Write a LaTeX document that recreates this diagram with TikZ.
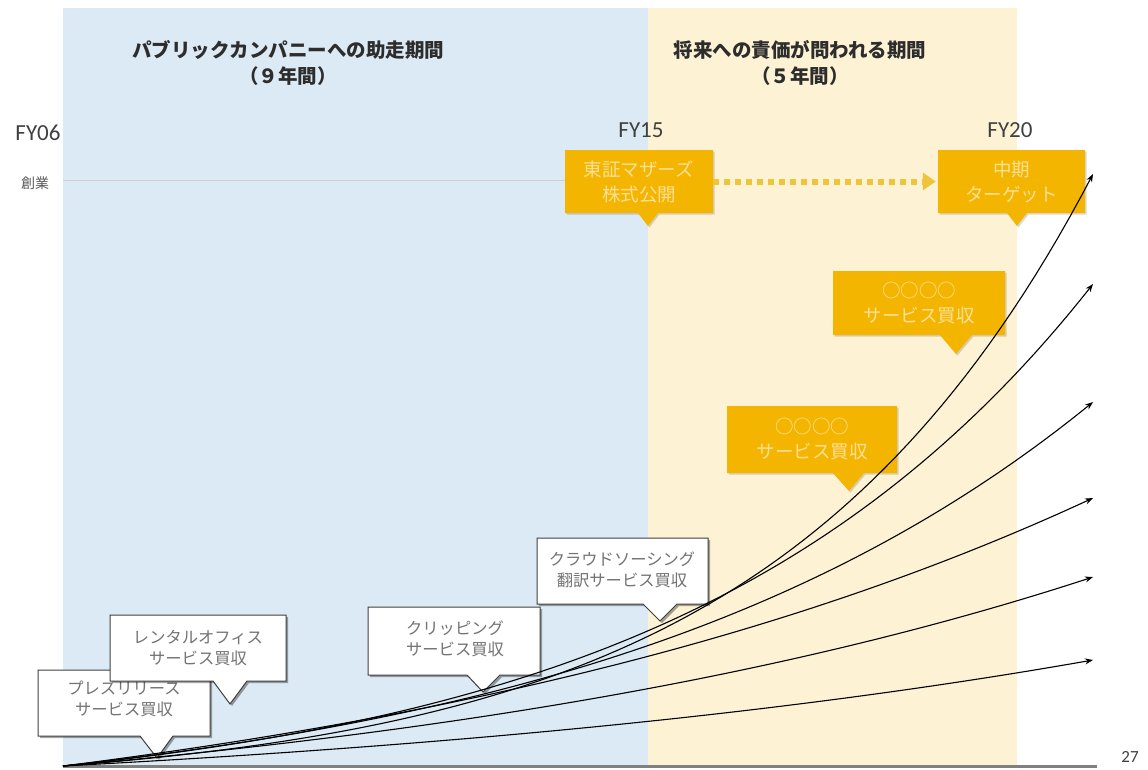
\documentclass[tikz,border=0pt]{standalone}
\usepackage{fontspec}
\setmainfont{Carlito}
\newfontfamily\jp{Noto Sans CJK JP}
\usetikzlibrary{arrows.meta,shadows}
\definecolor{bluebg}{RGB}{219,234,244}
\definecolor{yellowbg}{RGB}{253,242,212}
\definecolor{orangebox}{RGB}{244,181,0}
\definecolor{orangetext}{RGB}{251,224,150}
\definecolor{dotcol}{RGB}{238,196,58}
\definecolor{titlecol}{RGB}{45,45,45}
\definecolor{graytext}{RGB}{115,115,115}
\definecolor{fycol}{RGB}{64,64,64}
\definecolor{axiscol}{RGB}{128,128,128}
\definecolor{rulecol}{RGB}{212,204,204}
% callout outline: style, x1, y1, x2, y2, pointer base left, pointer base right, tip x, tip y
\newcommand\calloutpath[9]{\path[#1] (#2,#3) -- (#4,#3) -- (#4,#5) -- (#7,#5) -- (#8,#9) -- (#6,#5) -- (#2,#5) -- cycle;}
\begin{document}
\begin{tikzpicture}[x=1pt,y=-1pt,
  ttl/.style={font=\jp\bfseries\fontsize{19.5}{26}\selectfont, text=titlecol, align=center, inner sep=0},
  fylab/.style={font=\fontsize{23}{26}\selectfont, text=fycol, inner sep=0},
  wshape/.style={fill=white, draw=black!75, line width=1pt, drop shadow={shadow xshift=2pt, shadow yshift=-2pt, opacity=0.35, fill=black}},
  oshape/.style={fill=orangebox, drop shadow={shadow xshift=1.5pt, shadow yshift=-1.5pt, opacity=0.15, fill=black}},
  wtext/.style={font=\jp\fontsize{16.3}{21}\selectfont, text=graytext, align=center, inner sep=0},
  otext/.style={font=\jp\fontsize{18.5}{25}\selectfont, text=orangetext, align=center, inner sep=0},
  growth/.style={line width=1.1pt, -{Stealth[length=8pt,width=6pt]}},
  dotarrow/.style={dotcol, line width=6pt, dash pattern=on 6pt off 5pt, -{Triangle[length=13pt,width=17pt]}}
]
\useasboundingbox (0,0) rectangle (1148,769);
\fill[white] (0,0) rectangle (1148,769);
% backgrounds
\fill[bluebg] (63,8) rectangle (648,766);
\fill[yellowbg] (648,8) rectangle (1017,766);
% titles
\node[ttl] (t1) at (288,63) {パブリックカンパニーへの助走期間\\（９年間）};
\node[ttl] (t2) at (800,63) {将来への責価が問われる期間\\（５年間）};
% year labels
\node[fylab] (fy06) at (38,133) {FY06};
\node[fylab] (fy15) at (641,130) {FY15};
\node[fylab] (fy20) at (1010,130) {FY20};
\node[font=\jp\fontsize{14}{16}\selectfont, text=black!65, inner sep=0] (sogyo) at (35,183) {創業};
\coordinate (rulestart) at (63,180);
\coordinate (ruleend) at (565,180);
\draw[rulecol, line width=0.8pt] (rulestart) -- (ruleend);
% orange callouts
\calloutpath{oshape}{565}{150}{713}{213}{638}{658}{648}{226}
\node[otext, minimum width=148, minimum height=63] (tse) at (639,181.5) {東証マザーズ\\株式公開};
\calloutpath{oshape}{938}{150}{1085}{213}{1007}{1027}{1017}{226}
\node[otext, minimum width=147, minimum height=63] (target) at (1011.5,181.5) {中期\\ターゲット};
\draw[dotarrow] (tse.east) -- ([xshift=-2pt]target.west);
\calloutpath{oshape}{833}{271}{1005}{335}{940}{972}{956}{354}
\node[otext] (acqA) at (919,303) {○○○○\\サービス買収};
\calloutpath{oshape}{727}{406}{897}{473}{833}{864}{849}{491}
\node[otext] (acqB) at (812,439.5) {○○○○\\サービス買収};
% white callouts
\calloutpath{wshape}{38}{670}{210}{736}{140}{173}{157}{758}
\node[wtext] (press) at (124,699) {プレスリリース\\サービス買収};
\calloutpath{wshape}{110}{615}{286}{681}{213}{247}{230}{704}
\node[wtext] (rental) at (198,648) {レンタルオフィス\\サービス買収};
\calloutpath{wshape}{368}{607}{540}{675}{467}{500}{483}{692}
\node[wtext] (clip) at (455,639) {クリッピング\\サービス買収};
\calloutpath{wshape}{537}{538}{708}{604}{643}{677}{660}{621}
\node[wtext] (crowd) at (622,570) {クラウドソーシング\\翻訳サービス買収};
% axis
\coordinate (origin) at (63,766);
\coordinate (axisend) at (1097,766);
\draw[axiscol, line width=3pt] (origin) -- (axisend);
\node[font=\fontsize{17}{19}\selectfont, text=fycol, inner sep=0] (page) at (1130,757) {27};
% growth curves
\foreach \hh/\kk in {592/3.2, 482/2.5, 364/2.0, 268/1.3, 189/1.3, 106/1.2}
  \draw[growth] plot[domain=63:1093, samples=90] (\x,{766-\hh*(exp(\kk*(\x-63)/1030)-1)/(exp(\kk)-1)});
\end{tikzpicture}
\end{document}
